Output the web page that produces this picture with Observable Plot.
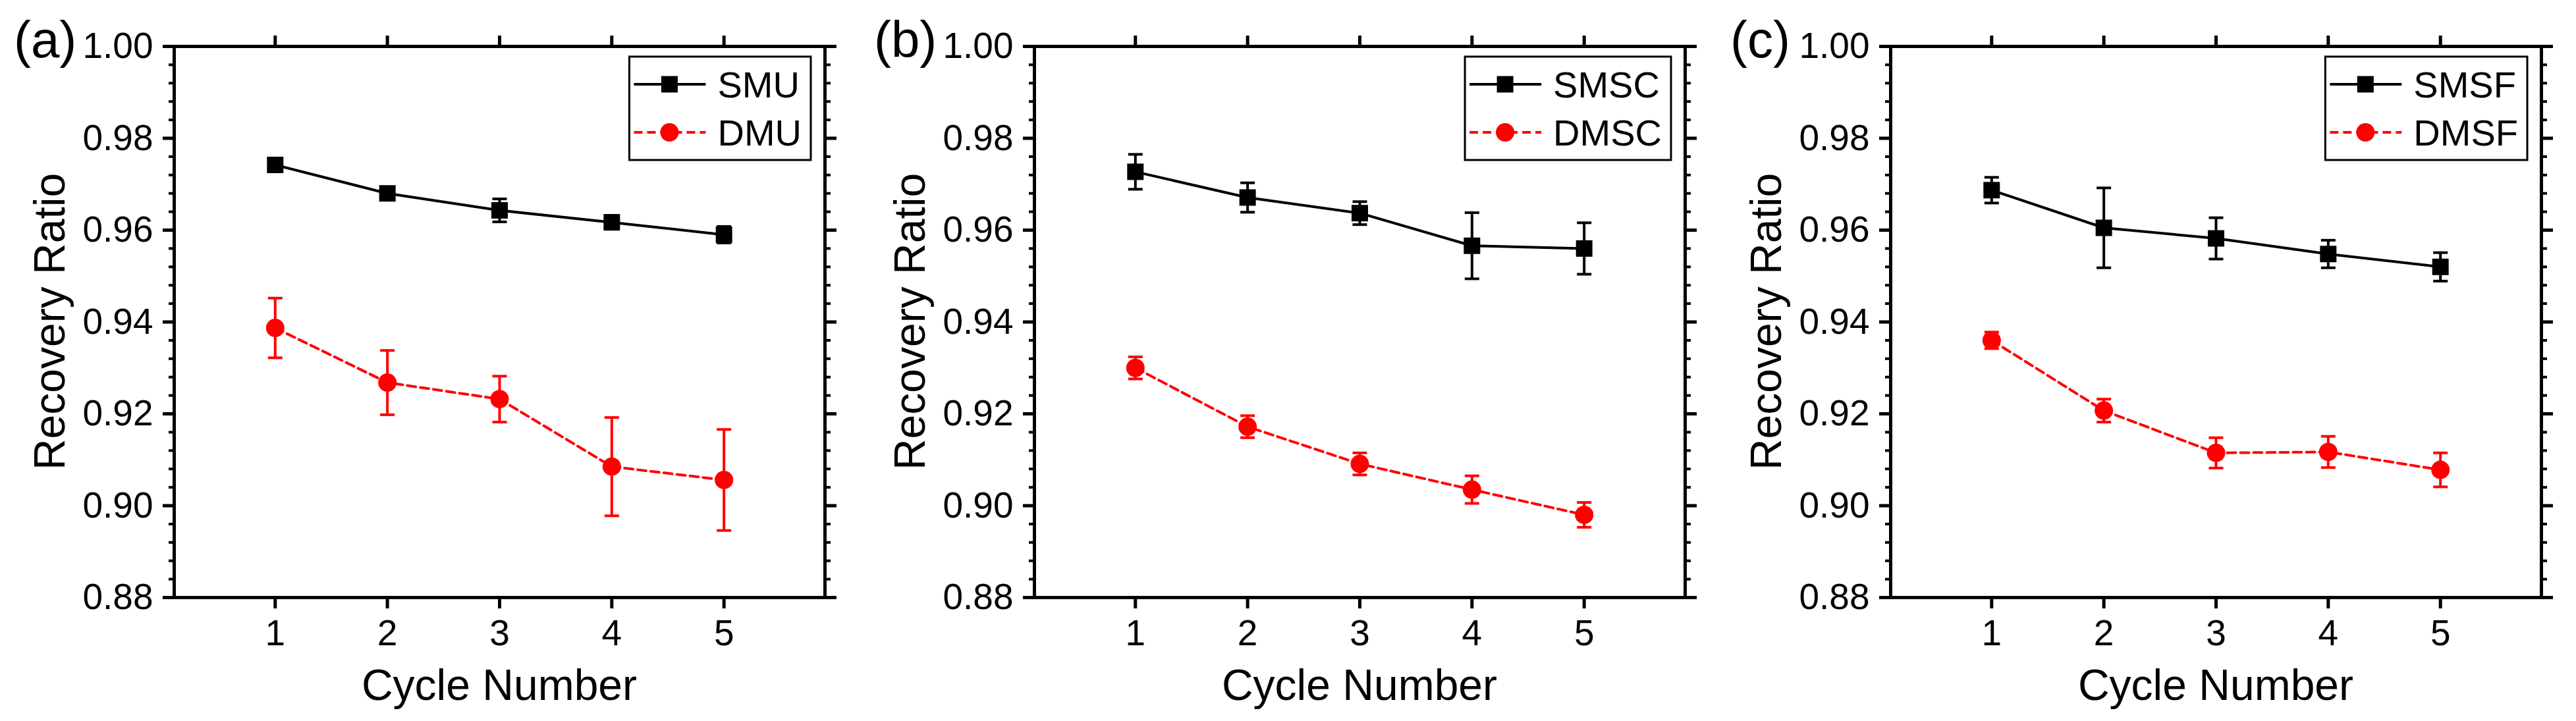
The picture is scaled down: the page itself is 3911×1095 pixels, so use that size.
<!DOCTYPE html>
<html>
<head>
<meta charset="utf-8">
<script src="https://cdn.jsdelivr.net/npm/d3@7"></script>
<script src="https://cdn.jsdelivr.net/npm/@observablehq/plot@0.6"></script>
<style>
  html, body { margin: 0; padding: 0; background: #fff; }
  #row { display: flex; flex-direction: row; width: 3911px; height: 1095px; }
  #row svg { display: block; max-width: none; flex: none; }
</style>
</head>
<body>
<div id="row"></div>
<script>
// ---------- data ----------
const cycles = [1, 2, 3, 4, 5];

const smuValues  = [0.9742, 0.9680, 0.9643, 0.9617, 0.9590];
const smuErrors  = [0.0012, 0.0010, 0.0025, 0.0015, 0.0018];
const dmuValues  = [0.9387, 0.9268, 0.9232, 0.9085, 0.9056];
const dmuErrors  = [0.0065, 0.0070, 0.0050, 0.0107, 0.0110];

const smscValues = [0.9727, 0.9671, 0.9637, 0.9566, 0.9560];
const smscErrors = [0.0038, 0.0032, 0.0025, 0.0072, 0.0056];
const dmscValues = [0.9300, 0.9172, 0.9091, 0.9035, 0.8980];
const dmscErrors = [0.0024, 0.0024, 0.0024, 0.0030, 0.0027];

const smsfValues = [0.9687, 0.9605, 0.9582, 0.9548, 0.9520];
const smsfErrors = [0.0028, 0.0087, 0.0045, 0.0030, 0.0031];
const dmsfValues = [0.9360, 0.9207, 0.9115, 0.9117, 0.9078];
const dmsfErrors = [0.0018, 0.0025, 0.0033, 0.0034, 0.0037];

const panelLabels = ["(a)", "(b)", "(c)"];
const solidNames  = ["SMU", "SMSC", "SMSF"];
const dashedNames = ["DMU", "DMSC", "DMSF"];

const xTicks = [1, 2, 3, 4, 5];
const yMajorTicks = [0.88, 0.90, 0.92, 0.94, 0.96, 0.98, 1.00];
const yMinorTicks = [0.884, 0.888, 0.892, 0.896, 0.904, 0.908, 0.912, 0.916,
                     0.924, 0.928, 0.932, 0.936, 0.944, 0.948, 0.952, 0.956,
                     0.964, 0.968, 0.972, 0.976, 0.984, 0.988, 0.992, 0.996];
const xLabel = "Cycle Number";
const yLabel = "Recovery Ratio";

// ---------- build ----------
const solidSeries  = [[smuValues, smuErrors], [smscValues, smscErrors], [smsfValues, smsfErrors]];
const dashedSeries = [[dmuValues, dmuErrors], [dmscValues, dmscErrors], [dmsfValues, dmsfErrors]];

const FONT = "'Liberation Sans', Arial, Helvetica, sans-serif";
const RED = "#ff0000";
const panelWidths = [1306, 1303, 1302];
const marginLefts = [264, 264, 261];
const plotW = 988;
const H = 1095, MT = 70, MB = 188;

const capSymbol = { draw(ctx) { ctx.moveTo(-11, 0); ctx.lineTo(11, 0); } };

function toRows(vals, errs) {
  return cycles.map((c, i) => ({ x: c, y: vals[i], lo: vals[i] - errs[i], hi: vals[i] + errs[i] }));
}

const canvas = document.createElement("canvas");
const cctx = canvas.getContext("2d");
function textWidth(t, size) { cctx.font = `${size}px ${FONT}`; return cctx.measureText(t).width; }

const row = document.getElementById("row");

for (let p = 0; p < 3; p++) {
  const solid = toRows(...solidSeries[p]);
  const dashed = toRows(...dashedSeries[p]);
  const W = panelWidths[p];
  const ML = marginLefts[p];
  const MR = W - ML - plotW;

  const seriesMarks = (rows, color, symbol, r, dash) => [
    Plot.ruleX(rows, { x: "x", y1: "lo", y2: "hi", stroke: color, strokeWidth: 4 }),
    Plot.dot(rows, { x: "x", y: "lo", symbol: capSymbol, stroke: color, strokeWidth: 4, fill: "none", r: 5 }),
    Plot.dot(rows, { x: "x", y: "hi", symbol: capSymbol, stroke: color, strokeWidth: 4, fill: "none", r: 5 }),
    Plot.line(rows, { x: "x", y: "y", stroke: color, strokeWidth: 4, strokeDasharray: dash }),
    Plot.dot(rows, { x: "x", y: "y", symbol, r, fill: color, stroke: "none" })
  ];

  const svg = Plot.plot({
    width: W, height: H,
    marginLeft: ML, marginRight: MR, marginTop: MT, marginBottom: MB,
    style: { fontFamily: FONT, color: "#000", background: "#fff", overflow: "visible" },
    x: { domain: [0.1, 5.9], label: null },
    y: { domain: [0.88, 1.00], label: null },
    marks: [
      Plot.axisY({ ticks: yMinorTicks, anchor: "left", tickSize: 8, strokeWidth: 4, tickFormat: () => "", label: null }),
      Plot.axisY({ ticks: yMinorTicks, anchor: "right", tickSize: 8, strokeWidth: 4, tickFormat: () => "", label: null }),
      Plot.axisY({ ticks: yMajorTicks, anchor: "left", tickSize: 17, tickPadding: 15, strokeWidth: 5,
                   tickFormat: d3.format(".2f"), fontSize: 55, label: null }),
      Plot.axisY({ ticks: yMajorTicks, anchor: "right", tickSize: 17, strokeWidth: 5, tickFormat: () => "", label: null }),
      Plot.axisX({ ticks: xTicks, anchor: "bottom", tickSize: 17, tickPadding: 16, strokeWidth: 5,
                   tickFormat: d3.format("d"), fontSize: 55, label: null }),
      Plot.axisX({ ticks: xTicks, anchor: "top", tickSize: 17, strokeWidth: 5, tickFormat: () => "", label: null }),
      Plot.frame({ stroke: "#000", strokeWidth: 5 }),
      ...seriesMarks(solid, "#000", "square", 14.1, null),
      ...seriesMarks(dashed, RED, "circle", 14, "13,7")
    ]
  });

  const s = d3.select(svg);
  const fL = ML, fR = ML + plotW, fT = MT, fB = H - MB;

  // axis titles
  s.append("text").attr("x", (fL + fR) / 2).attr("y", 1063)
    .attr("text-anchor", "middle").attr("font-size", 66).attr("fill", "#000").text(xLabel);
  s.append("text").attr("transform", `translate(${fL - 166},${(fT + fB) / 2}) rotate(-90)`)
    .attr("text-anchor", "middle").attr("font-size", 66).attr("fill", "#000").text(yLabel);
  // panel label
  s.append("text").attr("x", fL - 243).attr("y", 87).attr("text-anchor", "start")
    .attr("font-size", 78).attr("fill", "#000").text(panelLabels[p]);

  // legend
  const names = [solidNames[p], dashedNames[p]];
  const tw = Math.max(...names.map(n => textWidth(n, 56)));
  const boxW = 134 + tw + 14;
  const bx = fR - 21 - boxW, by = fT + 16;
  const g = s.append("g");
  g.append("rect").attr("x", bx).attr("y", by).attr("width", boxW).attr("height", 157)
    .attr("fill", "#fff").attr("stroke", "#000").attr("stroke-width", 3);
  const rows = [fT + 58, fT + 131];
  // solid entry
  g.append("line").attr("x1", bx + 7).attr("x2", bx + 116).attr("y1", rows[0]).attr("y2", rows[0])
    .attr("stroke", "#000").attr("stroke-width", 4);
  g.append("rect").attr("x", bx + 61 - 12.5).attr("y", rows[0] - 12.5).attr("width", 25).attr("height", 25).attr("fill", "#000");
  // dashed entry
  g.append("line").attr("x1", bx + 7).attr("x2", bx + 116).attr("y1", rows[1]).attr("y2", rows[1])
    .attr("stroke", RED).attr("stroke-width", 4).attr("stroke-dasharray", "13,7");
  g.append("circle").attr("cx", bx + 61).attr("cy", rows[1]).attr("r", 14).attr("fill", RED);
  names.forEach((n, i) => {
    g.append("text").attr("x", bx + 134).attr("y", rows[i] + 20).attr("text-anchor", "start")
      .attr("font-size", 56).attr("fill", "#000").text(n);
  });

  row.appendChild(svg);
}
</script>
</body>
</html>
